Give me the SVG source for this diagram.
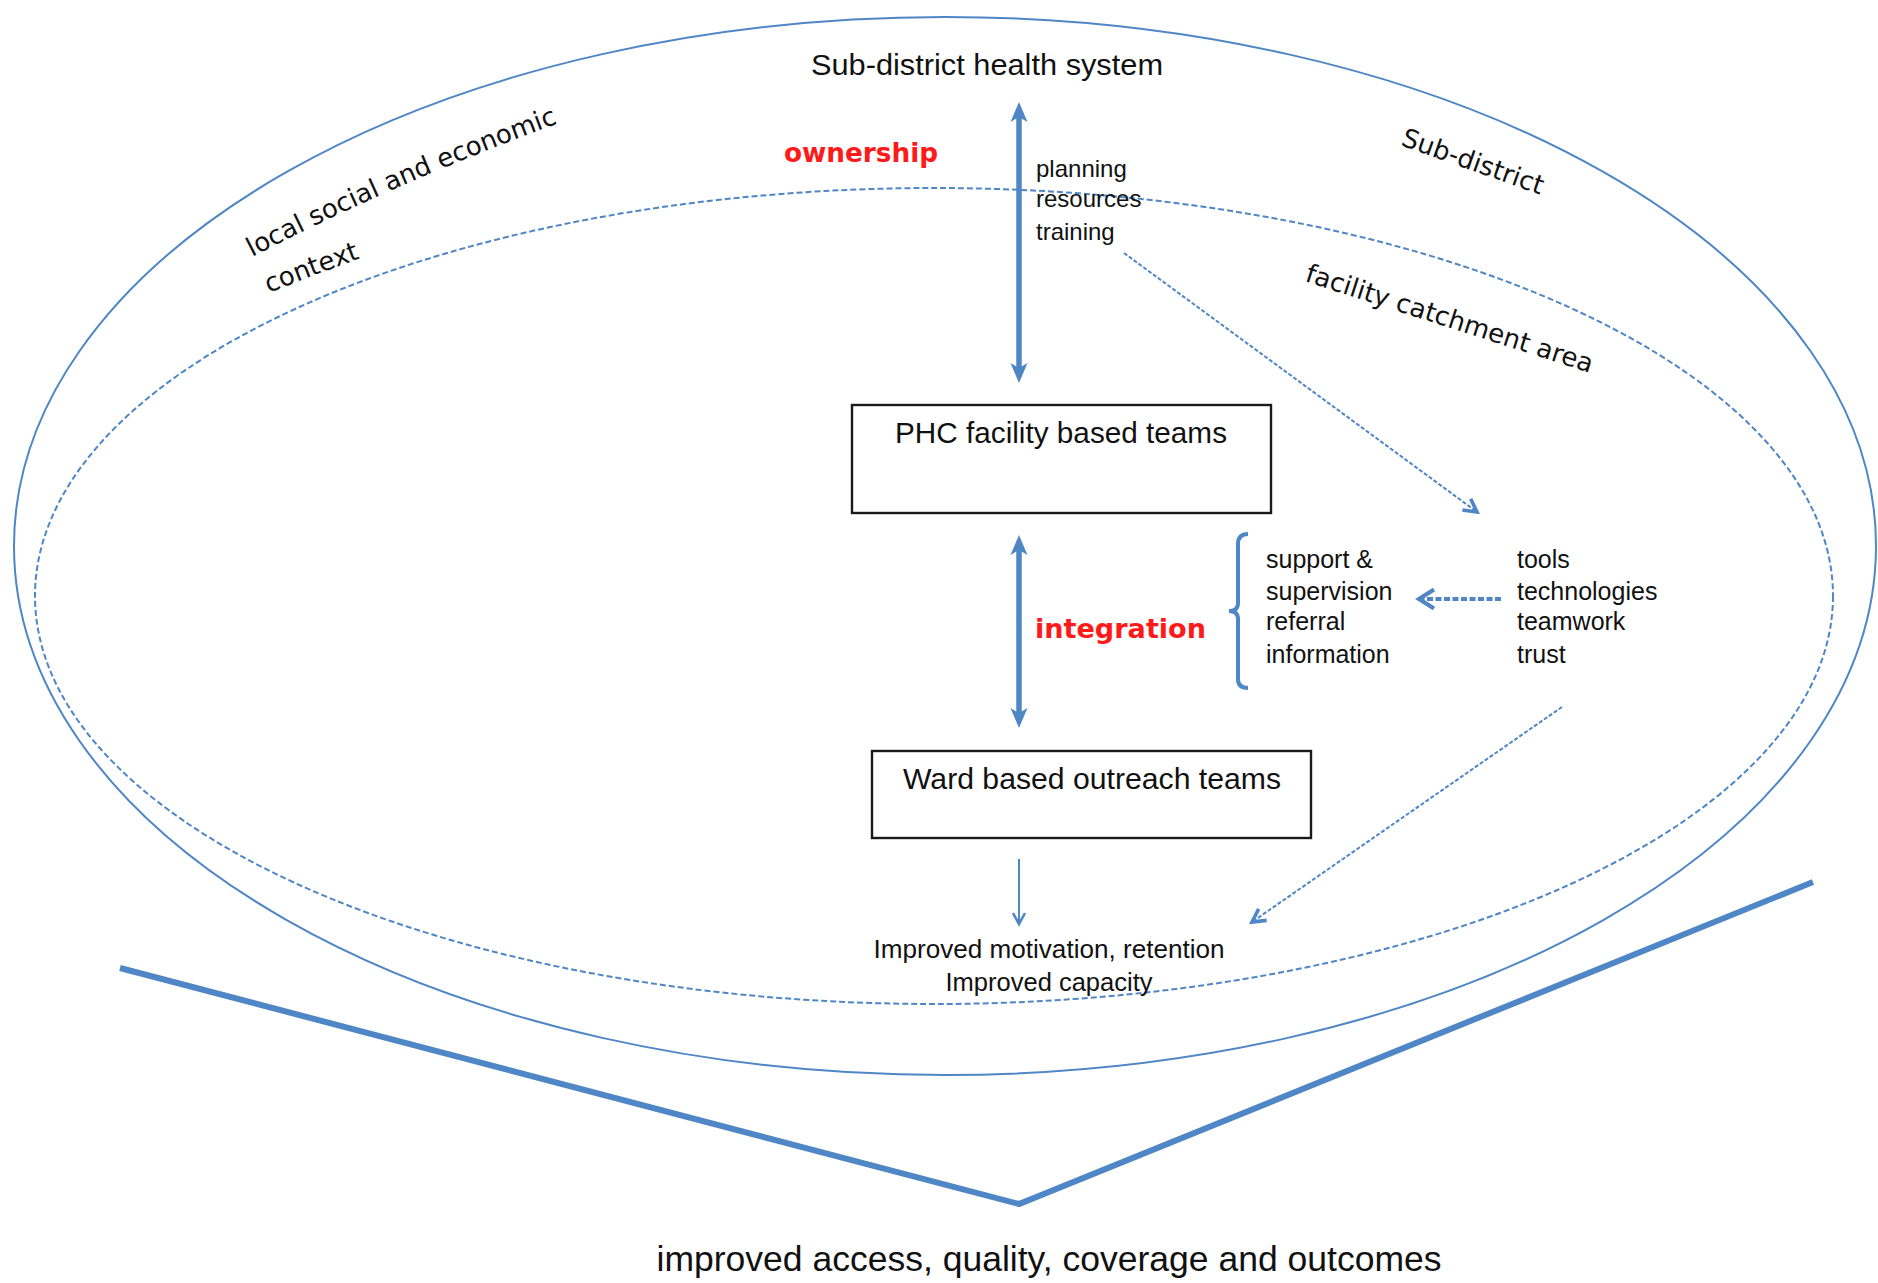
<svg xmlns="http://www.w3.org/2000/svg" width="1878" height="1283" viewBox="0 0 1878 1283">
  <style>
    .t { font-family: "Liberation Sans", Arial, sans-serif; fill: #111; }
    .v { font-family: "DejaVu Sans", Verdana, sans-serif; fill: #111; font-size: 26px; }
    .red { font-family: "DejaVu Sans", Verdana, sans-serif; font-weight: bold; fill: #ff1a1a; }
    .blue { fill: none; stroke: #4f86c6; }
    .box { fill: #fff; stroke: #1a1a1a; stroke-width: 2.4; }
  </style>
  <defs>
    <marker id="stealth" markerUnits="userSpaceOnUse" viewBox="0 0 20 20" markerWidth="20" markerHeight="20" refX="7" refY="10" orient="auto-start-reverse">
      <path d="M0,1.5 L20,10 L0,18.5 L5,10 z" fill="#4f86c6"/>
    </marker>
    <marker id="chev" markerUnits="userSpaceOnUse" viewBox="0 0 18 18" markerWidth="18" markerHeight="18" refX="15" refY="9" orient="auto">
      <path d="M2,2 L15,9 L2,16" fill="none" stroke="#4f86c6" stroke-width="3.6" stroke-linejoin="miter"/>
    </marker>
    <marker id="chevThin" markerUnits="userSpaceOnUse" viewBox="0 0 16 16" markerWidth="16" markerHeight="16" refX="13" refY="8" orient="auto">
      <path d="M2,2 L13,8 L2,14" fill="none" stroke="#4f86c6" stroke-width="2.6"/>
    </marker>
    <marker id="chevBig" markerUnits="userSpaceOnUse" viewBox="0 0 22 24" markerWidth="22" markerHeight="24" refX="18" refY="12" orient="auto">
      <path d="M3,2.5 L18,12 L3,21.5" fill="none" stroke="#4f86c6" stroke-width="4.2"/>
    </marker>
    <path id="arcLocal" d="M252,257 Q405,178 570,119"/>
    <path id="arcContext" d="M269,293 Q333,267 423,236"/>
  </defs>

  <g id="contexts">
    <ellipse id="sub-district-ellipse" cx="945" cy="546" rx="931" ry="529" class="blue" stroke-width="2"/>
    <ellipse id="catchment-ellipse" cx="934" cy="596" rx="899" ry="408" class="blue" stroke-width="2" stroke-dasharray="6 3"/>
  </g>

  <g id="labels">
    <text class="t" x="987" y="75" font-size="29" text-anchor="middle" textLength="352" lengthAdjust="spacingAndGlyphs">Sub-district health system</text>
    <text class="v"><textPath href="#arcLocal">local social and economic</textPath><textPath href="#arcContext">context</textPath></text>
    <text class="v" transform="translate(1400,145) rotate(19.5)">Sub-district</text>
    <text class="v" transform="translate(1304,281) rotate(17.8)">facility catchment area</text>
    <text class="red" x="784" y="162" font-size="26" textLength="154" lengthAdjust="spacingAndGlyphs">ownership</text>
    <text class="red" x="1035" y="638" font-size="27" textLength="171" lengthAdjust="spacingAndGlyphs">integration</text>
    <text class="t" x="1036" y="177" font-size="24">planning</text>
    <text class="t" x="1036" y="207" font-size="24">resources</text>
    <text class="t" x="1036" y="240" font-size="24">training</text>
    <text class="t" x="1266" y="568" font-size="25">support &amp;</text>
    <text class="t" x="1266" y="600" font-size="25">supervision</text>
    <text class="t" x="1266" y="630" font-size="25">referral</text>
    <text class="t" x="1266" y="663" font-size="25">information</text>
    <text class="t" x="1517" y="568" font-size="25">tools</text>
    <text class="t" x="1517" y="600" font-size="25">technologies</text>
    <text class="t" x="1517" y="630" font-size="25">teamwork</text>
    <text class="t" x="1517" y="663" font-size="25">trust</text>
    <text class="t" x="1049" y="958" font-size="25" text-anchor="middle" textLength="351" lengthAdjust="spacingAndGlyphs">Improved motivation, retention</text>
    <text class="t" x="1049" y="991" font-size="25" text-anchor="middle" textLength="207" lengthAdjust="spacingAndGlyphs">Improved capacity</text>
    <text class="t" x="1049" y="1271" font-size="35" text-anchor="middle" textLength="785" lengthAdjust="spacingAndGlyphs">improved access, quality, coverage and outcomes</text>
  </g>

  <g id="phc-node">
    <rect x="852" y="405" width="419" height="108" class="box"/>
    <text class="t" x="1061" y="443" font-size="29" text-anchor="middle" textLength="332" lengthAdjust="spacingAndGlyphs">PHC facility based teams</text>
  </g>

  <g id="ward-node">
    <rect x="872" y="751" width="439" height="87" class="box"/>
    <text class="t" x="1092" y="789" font-size="29" text-anchor="middle" textLength="378" lengthAdjust="spacingAndGlyphs">Ward based outreach teams</text>
  </g>

  <g id="connectors">
    <line x1="1019" y1="115" x2="1019" y2="370" class="blue" stroke-width="5.5" marker-start="url(#stealth)" marker-end="url(#stealth)"/>
    <line x1="1019" y1="548" x2="1019" y2="715" class="blue" stroke-width="5.5" marker-start="url(#stealth)" marker-end="url(#stealth)"/>
    <line x1="1019" y1="859" x2="1019" y2="924" class="blue" stroke-width="2" marker-end="url(#chevThin)"/>
    <line x1="1124" y1="253" x2="1477" y2="512" class="blue" stroke-width="2" stroke-dasharray="4 2" marker-end="url(#chev)"/>
    <line x1="1562" y1="707" x2="1252" y2="922" class="blue" stroke-width="2" stroke-dasharray="4 2" marker-end="url(#chev)"/>
    <line x1="1501" y1="599" x2="1419" y2="599" class="blue" stroke-width="4" stroke-dasharray="6 2.5" marker-end="url(#chevBig)"/>
    <path d="M1248,534 Q1238,534 1238,544 L1238,603 Q1238,611 1229,611 Q1238,611 1238,619 L1238,679 Q1238,688 1248,688" class="blue" stroke-width="4"/>
    <polyline points="120,968 1019,1204 1813,882" class="blue" stroke-width="6"/>
  </g>
</svg>
